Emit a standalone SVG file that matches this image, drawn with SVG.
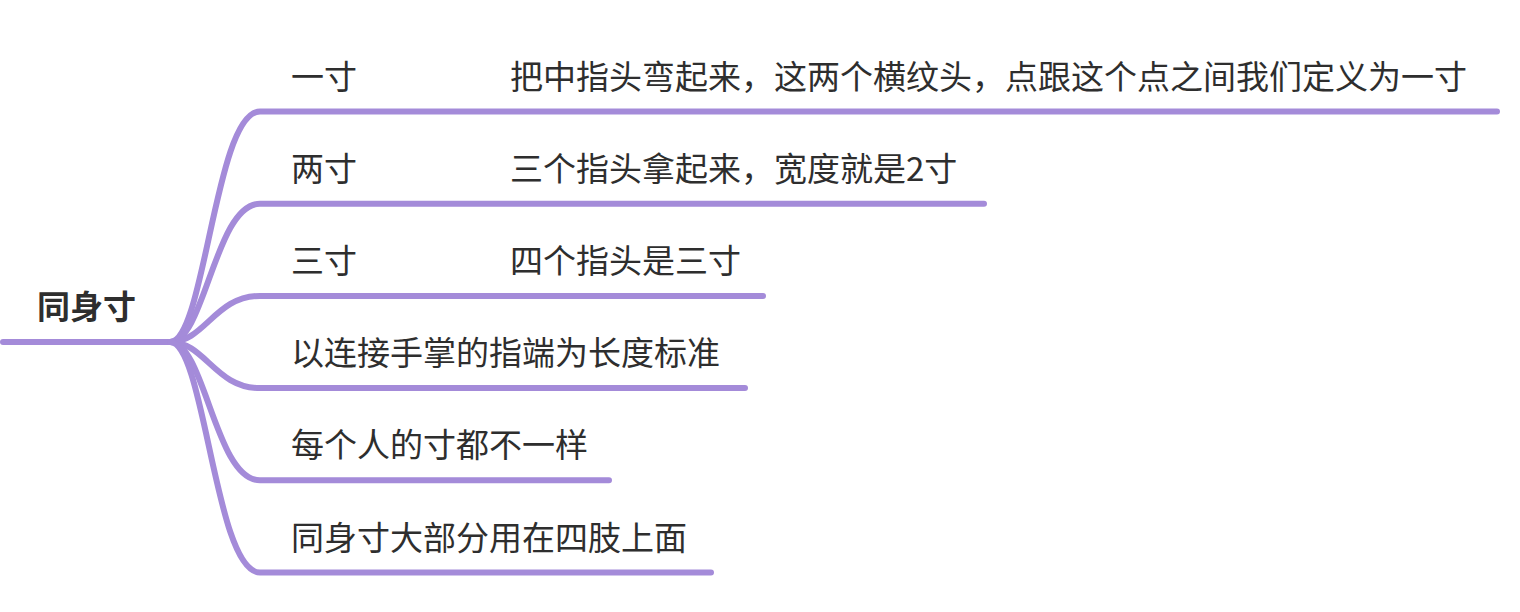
<svg xmlns="http://www.w3.org/2000/svg" width="1520" height="612" viewBox="0 0 1520 612">
<style>
.ln{fill:none;stroke:#a48bd9;stroke-width:6;stroke-linecap:round;stroke-linejoin:round}
.t{font-family:"Noto Sans CJK SC","Noto Sans",sans-serif;font-size:33px;fill:#2e2e2e}
.root{font-weight:bold}
</style>
<rect width="1520" height="612" fill="#ffffff"/>
<g id="connectors">
<path class="ln" d="M3,342 L170,342"/>
<path class="ln" d="M170,342 C205,342 215,111.5 260,111.5 L1497,111.5"/>
<path class="ln" d="M170,342 C205,342 215,203.7 260,203.7 L984,203.7"/>
<path class="ln" d="M170,342 C205,342 215,295.9 260,295.9 L763,295.9"/>
<path class="ln" d="M170,342 C205,342 215,388.1 260,388.1 L745,388.1"/>
<path class="ln" d="M170,342 C205,342 215,480.3 260,480.3 L609,480.3"/>
<path class="ln" d="M170,342 C205,342 215,572.5 260,572.5 L711,572.5"/>
</g>
<g id="root"><text class="t root" x="37" y="319">同身寸</text></g>
<g id="n1"><text class="t" x="291" y="88.5">一寸</text></g>
<g id="n1a"><text class="t" x="510" y="88.5">把中指头弯起来，这两个横纹头，点跟这个点之间我们定义为一寸</text></g>
<g id="n2"><text class="t" x="291" y="180.7">两寸</text></g>
<g id="n2a"><text class="t" x="510" y="180.7">三个指头拿起来，宽度就是2寸</text></g>
<g id="n3"><text class="t" x="291" y="272.9">三寸</text></g>
<g id="n3a"><text class="t" x="510" y="272.9">四个指头是三寸</text></g>
<g id="n4"><text class="t" x="291" y="365.1">以连接手掌的指端为长度标准</text></g>
<g id="n5"><text class="t" x="291" y="457.3">每个人的寸都不一样</text></g>
<g id="n6"><text class="t" x="291" y="549.5">同身寸大部分用在四肢上面</text></g>
</svg>
